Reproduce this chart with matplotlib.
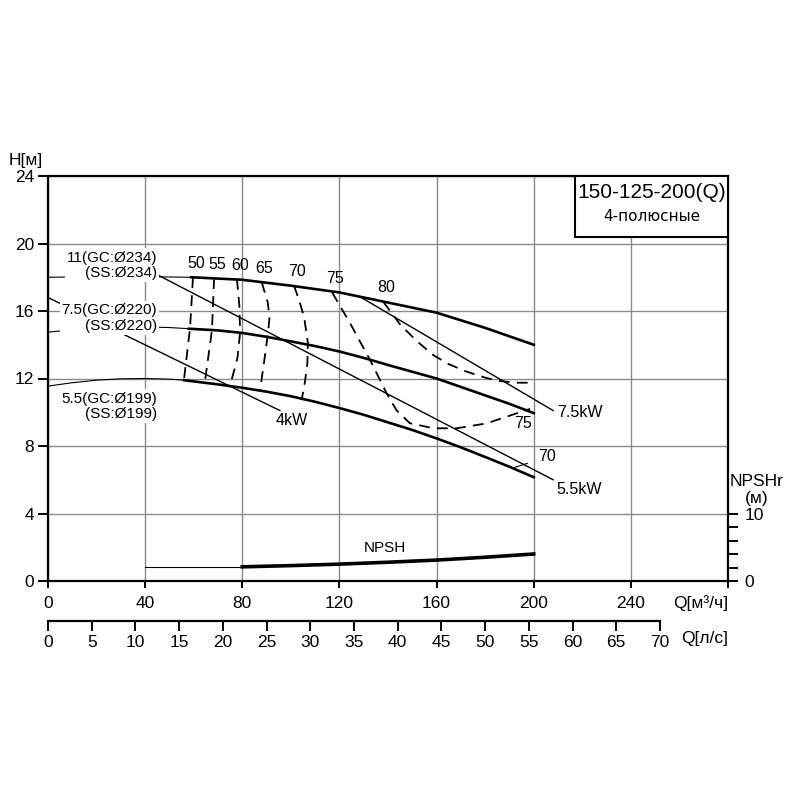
import matplotlib
matplotlib.use('Agg')
import matplotlib.pyplot as plt
from matplotlib.patches import Rectangle

plt.rcParams['font.family'] = ['Liberation Sans', 'DejaVu Sans']

# H-Q curves (thin = outside working range, thick = working range)
q_234_thin = [0, 30, 59]
h_234_thin = [18.0, 18.05, 18.0]
q_234 = [59, 80, 100, 120, 130, 140, 150, 160, 170, 180, 190, 200]
h_234 = [18.0, 17.85, 17.5, 17.1, 16.8, 16.5, 16.2, 15.9, 15.45, 15.0, 14.5, 14.0]

q_220_thin = [0, 10, 20, 30, 40, 50, 58]
h_220_thin = [14.75, 14.88, 14.97, 15.03, 15.05, 15.02, 14.95]
q_220 = [58, 70, 80, 90, 100, 110, 120, 130, 140, 150, 160, 170, 180, 190, 200]
h_220 = [14.95, 14.85, 14.7, 14.47, 14.2, 13.92, 13.6, 13.22, 12.8, 12.4, 12.0, 11.5, 11.0, 10.5, 9.95]

q_199_thin = [0, 10, 20, 30, 40, 50, 56]
h_199_thin = [11.55, 11.75, 11.9, 11.98, 12.0, 11.96, 11.9]
q_199 = [56, 70, 80, 90, 100, 110, 120, 130, 140, 150, 160, 170, 180, 190, 200]
h_199 = [11.9, 11.65, 11.45, 11.22, 10.95, 10.62, 10.25, 9.85, 9.4, 8.95, 8.45, 7.92, 7.35, 6.77, 6.15]

# iso-efficiency curves [%]
eff_labels = ['50', '55', '60', '65', '70', '75', '80']
eff_q = [
    [59.7, 58.5, 56.0],
    [68.4, 67.5, 64.6],
    [77.8, 78.8, 79.1, 78.0, 75.0],
    [88.0, 90.5, 91.2, 90.6, 89.0, 87.3],
    [101.3, 103.5, 105.5, 107.0, 106.8, 105.8, 104.6],
    [117, 124.4, 132.6, 139.5, 143.6, 149, 158.7, 168.3, 180.6, 188.9, 198.5],
    [138, 145, 152, 158.5, 165, 172.5, 180, 186, 193, 200],
]
eff_h = [
    [18.0, 15.0, 11.95],
    [17.95, 14.85, 11.8],
    [17.9, 16.3, 14.75, 13.2, 11.6],
    [17.7, 16.5, 15.6, 14.7, 13.0, 11.3],
    [17.5, 16.6, 15.6, 14.1, 12.9, 11.8, 10.85],
    [17.1, 15.27, 13.1, 11.1, 10.1, 9.35, 9.05, 9.05, 9.34, 9.74, 10.2],
    [16.55, 15.2, 14.2, 13.4, 12.85, 12.4, 12.05, 11.85, 11.75, 11.75],
]

# motor power lines
q_4kw = [0, 95.5]
h_4kw = [16.8, 10.1]
q_55kw = [45, 208]
h_55kw = [18.15, 6.0]
q_75kw = [129, 208]
h_75kw = [16.8, 10.1]

# NPSHr
q_npsh_thin = [40, 80]
npsh_thin = [2.1, 2.1]
q_npsh = [80, 100, 120, 140, 160, 180, 200]
npsh = [2.1, 2.28, 2.5, 2.78, 3.1, 3.52, 4.0]

fig = plt.figure(figsize=(8, 8), dpi=100)
ax = fig.add_axes([0.06, 0.27375, 0.85, 0.50625])
ax.set_xlim(0, 280)
ax.set_ylim(0, 24)
ax.set_xticks(range(0, 281, 40))
ax.set_xticklabels([str(v) for v in range(0, 241, 40)] + [''])
ax.set_yticks(range(0, 25, 4))
ax.grid(color='#8a8a8a', lw=1.0)
ax.set_axisbelow(True)
for s in ax.spines.values():
    s.set_linewidth(1.6)
ax.tick_params(axis='y', direction='out', length=7, width=1.4, pad=3, labelsize=12.5)
ax.tick_params(axis='x', direction='out', length=5, width=1.4, pad=6, labelsize=12.5)

thin = dict(color='black', lw=0.8)
thick = dict(color='black', lw=1.9)
ax.plot(q_234_thin, h_234_thin, **thin)
ax.plot(q_220_thin, h_220_thin, **thin)
ax.plot(q_199_thin, h_199_thin, **thin)
ax.plot(q_234, h_234, **thick)
ax.plot(q_220, h_220, **thick)
ax.plot(q_199, h_199, **thick)

for lab, q, h in zip(eff_labels, eff_q, eff_h):
    ax.plot(q, h, color='black', lw=1.3, dashes=(6, 4))
    ax.annotate(lab, (q[0], h[0]), xytext=(2, 10), textcoords='offset points',
                ha='center', va='center', fontsize=11.5)

ax.plot(q_4kw, h_4kw, color='black', lw=1.0)
ax.plot(q_55kw, h_55kw, color='black', lw=1.0)
ax.plot(q_75kw, h_75kw, color='black', lw=1.0)

box = dict(fc='white', ec='none', pad=1.5)
lab_kw = dict(ha='right', va='center', multialignment='right', fontsize=11,
              linespacing=1.15, bbox=box)
ax.text(45, 18.7, '11(GC:Ø234)\n(SS:Ø234)', **lab_kw)
ax.text(45, 15.6, '7.5(GC:Ø220)\n(SS:Ø220)', **lab_kw)
ax.text(45, 10.35, '5.5(GC:Ø199)\n(SS:Ø199)', **lab_kw)

ax.text(100.3, 9.5, '4kW', ha='center', va='center', fontsize=11.5)
ax.text(209.5, 10.0, '7.5kW', ha='left', va='center', fontsize=11.5)
ax.text(209.5, 5.4, '5.5kW', ha='left', va='center', fontsize=11.5)
ax.text(195.6, 9.35, '75', ha='center', va='center', fontsize=11.5)
ax.annotate('70', xy=(191.5, 6.7), xytext=(205.5, 7.35), ha='center', va='center',
            fontsize=11.5, arrowprops=dict(arrowstyle='-', lw=0.8, shrinkA=6, shrinkB=0))
ax.text(138.8, 1.95, 'NPSH', ha='center', va='center', fontsize=11)

# model box
ax.add_patch(Rectangle((217, 20.4), 63, 3.6, fc='white', ec='black', lw=1.5, zorder=3))
ax.text(248.5, 23.0, '150-125-200(Q)', ha='center', va='center', fontsize=15,
        zorder=4)
ax.text(248.5, 21.6, '4-полюсные', ha='center', va='center', fontsize=11,
        family=['DejaVu Sans'], zorder=4)

# NPSHr on right axis
tw = ax.twinx()
tw.set_ylim(0, 60)
tw.set_yticks([0, 10])
tw.set_yticks([2, 4, 6, 8], minor=True)
tw.tick_params(axis='y', which='both', direction='out', length=7, width=1.4, pad=5, labelsize=12.5)
for s in tw.spines.values():
    s.set_visible(False)
tw.plot(q_npsh_thin, npsh_thin, color='black', lw=0.8)
tw.plot(q_npsh, npsh, color='black', lw=2.6)

# second flow axis, l/s
ax2 = fig.add_axes([0.06, 0.22375, 0.85, 0.0001])
ax2.set_facecolor('none')
ax2.set_xlim(0, 280 / 3.6)
ax2.set_xticks(range(0, 71, 5))
ax2.set_yticks([])
for k in ['left', 'right', 'top']:
    ax2.spines[k].set_visible(False)
ax2.spines['bottom'].set_bounds(0, 70)
ax2.spines['bottom'].set_linewidth(1.6)
ax2.tick_params(axis='x', direction='out', length=7, width=1.4, pad=3, labelsize=12.5)

fig.text(26 / 800, 1 - 160 / 800, 'H[м]', ha='center', va='center', fontsize=12.5)
fig.text(728 / 800, 1 - 603 / 800, 'Q[м³/ч]', ha='right', va='center', fontsize=12.5)
fig.text(728 / 800, 1 - 638 / 800, 'Q[л/с]', ha='right', va='center', fontsize=12.5)
fig.text(757 / 800, 1 - 482 / 800, 'NPSHr', ha='center', va='center', fontsize=12.5)
fig.text(757 / 800, 1 - 498 / 800, '(м)', ha='center', va='center', fontsize=12.5)

fig.savefig('out.png', dpi=100, facecolor='white')
